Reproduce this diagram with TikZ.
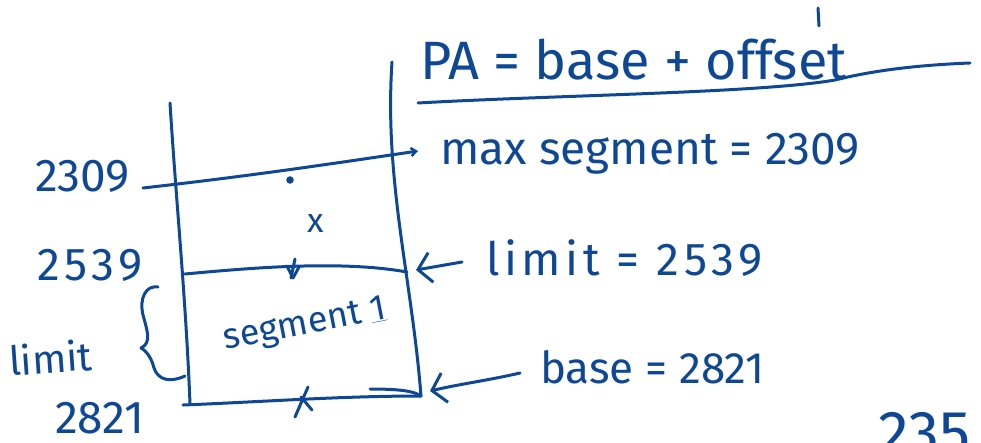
\documentclass[tikz,border=0pt]{standalone}
\usepackage{fontspec}
\setmainfont{Fira Sans}
\usetikzlibrary{arrows.meta}
\definecolor{ink}{RGB}{14,72,148}
\begin{document}
\begin{tikzpicture}[x=1pt,y=-1pt,
  ink/.style={draw=ink, line width=3pt, line cap=round, line join=round},
  hand/.style={text=ink, inner sep=0pt, font=\fontsize{#1}{#1}\selectfont},
  spaced/.style={font=\fontsize{#1}{#1}\selectfont\addfontfeature{LetterSpace=10}},
  barb/.style={-{Straight Barb[length=13pt,width=30pt,line width=3pt]}}]
\useasboundingbox (0,0) rectangle (981,443);
\clip (0,0) rectangle (981,443);
% box
\coordinate (LT) at (170,103);
\coordinate (LB) at (190,404);
\coordinate (RT) at (392,62);
\coordinate (RB) at (421,396);
\draw[ink] (LT) .. controls (176,200) and (186,300) .. (LB);
\draw[ink] (RT) .. controls (384,180) and (412,280) .. (RB);
\draw[ink] (183,405) .. controls (260,402) and (340,396) .. (RB);
\draw[ink] (RB) .. controls (415,392) and (405,389) .. (370,389);
% 2309 line
\coordinate (a1) at (143,188);
\coordinate (a2) at (418,151);
\draw[ink,-{Straight Barb[length=5pt,width=8pt,line width=2.5pt]}] (a1) .. controls (250,176) and (330,164) .. (a2);
\fill[ink] (290,180) circle (2.2pt);
% limit line
\draw[ink] (185,274) .. controls (250,268) and (340,260) .. (407,272);
\draw[ink] (295,259) -- (291,278);
\draw[ink] (287,266) -- (293,278) -- (299,267);
% bottom cross
\draw[ink] (308,387) -- (295,417);
\draw[ink] (301,397) -- (312,410);
% x
\node[hand=34] (xm) at (316,224) {x};
% brace
\draw[ink] (158,287) .. controls (146,285) and (139,298) .. (143,315)
  .. controls (147,330) and (152,343) .. (141,348)
  .. controls (148,352) and (152,360) .. (154,368)
  .. controls (158,380) and (170,383) .. (185,376);
% left labels
\node[hand=46, anchor=base west] (l2309) at (35,192) {2309};
\node[hand=46, spaced=46, anchor=base west] (l2539) at (37,280) {2539};
\node[hand=46, anchor=base west] (l2821) at (55,433) {2821};
\node[hand=40, anchor=base west, rotate=4] (llimit) at (10,376) {limit};
\node[hand=36, rotate=11] (seg) at (305,326) {segment \underline{1}};
% right texts
\node[hand=54, anchor=base west] (pa) at (420,80) {PA = base + offset};
\draw[ink] (818,8) -- (819,26);
\draw[ink] (418,103) .. controls (560,95) and (760,93) .. (835,80)
  .. controls (875,70) and (920,65) .. (970,63);
\node[hand=46, anchor=base west] (maxs) at (440,165) {max segment = 2309};
\node[hand=46, spaced=46, anchor=base west] (lim) at (486,276) {limit = 2539};
\node[hand=44, anchor=base west] (bas) at (540,383) {base = 2821};
% arrows
\coordinate (limtail) at (462,262);
\coordinate (limtip) at (416,270);
\coordinate (bastail) at (520,373);
\coordinate (bastip) at (430,391);
\draw[ink,barb] (limtail) -- (limtip);
\draw[ink,barb] (bastail) .. controls (490,380) and (460,384) .. (bastip);
% cut-off bottom
\node[hand=62, anchor=north west] (b235) at (878,412) {235};
\end{tikzpicture}
\end{document}
